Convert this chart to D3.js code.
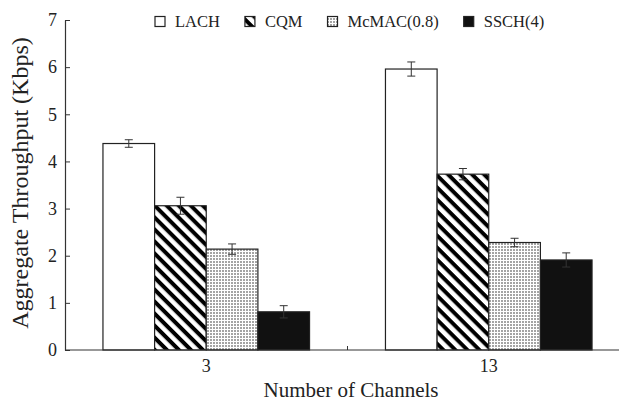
<!DOCTYPE html>
<html>
<head>
<meta charset="utf-8">
<script src="https://cdn.jsdelivr.net/npm/d3@7/dist/d3.min.js"></script>
<style>
  body { margin: 0; background: #fff; }
  svg { display: block; font-family: "Liberation Serif", "Times New Roman", serif; }
</style>
</head>
<body>
<svg id="chart"></svg>
<script>
const categories = ["3", "13"];
const seriesNames = ["LACH", "CQM", "McMAC(0.8)", "SSCH(4)"];

const lachValues = [4.38, 5.96];
const cqmValues = [3.06, 3.73];
const mcmacValues = [2.14, 2.28];
const sschValues = [0.81, 1.91];

const lachErrors = [0.08, 0.15];
const cqmErrors = [0.18, 0.12];
const mcmacErrors = [0.11, 0.09];
const sschErrors = [0.13, 0.15];

const yTicks = [0, 1, 2, 3, 4, 5, 6, 7];

const width = 619;
const height = 402;
const serif = "'Liberation Serif', 'Times New Roman', serif";

const svg = d3.select("#chart")
    .attr("width", width)
    .attr("height", height);

const defs = svg.append("defs");

// diagonal hatch for CQM
const hatch = defs.append("pattern")
    .attr("id", "hatch")
    .attr("patternUnits", "userSpaceOnUse")
    .attr("width", 8.5)
    .attr("height", 8.5)
    .attr("patternTransform", "rotate(45)");
hatch.append("rect").attr("width", 8.5).attr("height", 8.5).attr("fill", "#fff");
hatch.append("rect").attr("width", 8.5).attr("height", 4).attr("fill", "#000");

// fine dots for McMAC
const dots = defs.append("pattern")
    .attr("id", "dots")
    .attr("patternUnits", "userSpaceOnUse")
    .attr("width", 3)
    .attr("height", 3);
dots.append("rect").attr("width", 3).attr("height", 3).attr("fill", "#fff");
dots.append("rect").attr("width", 2).attr("height", 2).attr("fill", "#a4a4a4");

const fills = {
    "LACH": "#fff",
    "CQM": "url(#hatch)",
    "McMAC(0.8)": "url(#dots)",
    "SSCH(4)": "#111"
};

const seriesData = [
    { name: "LACH", values: lachValues, errors: lachErrors },
    { name: "CQM", values: cqmValues, errors: cqmErrors },
    { name: "McMAC(0.8)", values: mcmacValues, errors: mcmacErrors },
    { name: "SSCH(4)", values: sschValues, errors: sschErrors }
];

const plotLeft = 65;
const plotRight = 630;
const plotTop = 20;
const plotBottom = 350;

const y = d3.scaleLinear()
    .domain([0, 7])
    .range([plotBottom, plotTop]);

const x0 = d3.scaleBand()
    .domain(categories)
    .range([plotLeft, plotRight]);

const x1 = d3.scaleBand()
    .domain(seriesNames)
    .range([0, x0.bandwidth()])
    .paddingInner(0)
    .paddingOuter(0.735);

// flatten to bar records
const bars = [];
seriesData.forEach(s => {
    categories.forEach((c, i) => {
        bars.push({ series: s.name, cat: c, value: s.values[i], err: s.errors[i] });
    });
});

const barG = svg.append("g");

barG.selectAll("rect")
    .data(bars)
    .enter()
    .append("rect")
    .attr("x", d => x0(d.cat) + x1(d.series))
    .attr("y", d => y(d.value))
    .attr("width", x1.bandwidth())
    .attr("height", d => y(0) - y(d.value))
    .attr("fill", d => fills[d.series])
    .attr("stroke", "#222")
    .attr("stroke-width", 1.2);

// error bars
const errG = svg.append("g")
    .attr("stroke", "#333")
    .attr("stroke-width", 1);

const capW = 4;
bars.forEach(d => {
    const cx = x0(d.cat) + x1(d.series) + x1.bandwidth() / 2;
    const yHi = y(d.value + d.err);
    const yLo = y(d.value - d.err);
    errG.append("line").attr("x1", cx).attr("x2", cx).attr("y1", yHi).attr("y2", yLo);
    errG.append("line").attr("x1", cx - capW).attr("x2", cx + capW).attr("y1", yHi).attr("y2", yHi);
    errG.append("line").attr("x1", cx - capW).attr("x2", cx + capW).attr("y1", yLo).attr("y2", yLo);
});

// y axis, ticks pointing inward
const yAxis = svg.append("g")
    .attr("transform", `translate(${plotLeft},0)`)
    .call(d3.axisLeft(y).tickValues(yTicks).tickFormat(d3.format("d"))
        .tickSizeInner(-5).tickSizeOuter(0).tickPadding(8));
yAxis.attr("font-family", serif).attr("font-size", 18);
yAxis.select(".domain").attr("stroke", "#333").attr("stroke-width", 1.2);
yAxis.selectAll(".tick line").attr("stroke", "#333");
yAxis.selectAll(".tick text").attr("fill", "#222");

// x axis: labels at band centres, ticks at band boundaries
const xAxis = svg.append("g")
    .attr("transform", `translate(0,${plotBottom})`)
    .call(d3.axisBottom(x0).tickSize(0).tickPadding(9.5));
xAxis.attr("font-family", serif).attr("font-size", 18);
xAxis.select(".domain").remove();
xAxis.selectAll(".tick text").attr("fill", "#222");

svg.append("line")
    .attr("x1", plotLeft)
    .attr("x2", plotRight)
    .attr("y1", plotBottom)
    .attr("y2", plotBottom)
    .attr("stroke", "#333")
    .attr("stroke-width", 1.2);

categories.forEach(c => {
    const bx = x0(c) + x0.bandwidth();
    svg.append("line")
        .attr("x1", bx).attr("x2", bx)
        .attr("y1", plotBottom).attr("y2", plotBottom - 4)
        .attr("stroke", "#333");
});

// axis titles
svg.append("text")
    .attr("x", 351)
    .attr("y", 397)
    .attr("text-anchor", "middle")
    .attr("font-family", serif)
    .style("font-size", "21px")
    .attr("fill", "#222")
    .text("Number of Channels");

svg.append("text")
    .attr("transform", "translate(28,183) rotate(-90)")
    .attr("text-anchor", "middle")
    .attr("font-family", serif)
    .style("font-size", "24px")
    .attr("fill", "#222")
    .text("Aggregate Throughput (Kbps)");

// legend
const legend = svg.append("g").attr("font-family", serif);
let lx = 155;
seriesNames.forEach(name => {
    legend.append("rect")
        .attr("x", lx)
        .attr("y", 16.5)
        .attr("width", 10)
        .attr("height", 10)
        .attr("fill", fills[name])
        .attr("stroke", "#222")
        .attr("stroke-width", 1.2);
    const t = legend.append("text")
        .attr("x", lx + 20)
        .attr("y", 27)
        .style("font-size", "16.5px")
        .attr("fill", "#222")
        .text(name);
    lx += 20 + t.node().getComputedTextLength() + 25;
});
</script>
</body>
</html>
